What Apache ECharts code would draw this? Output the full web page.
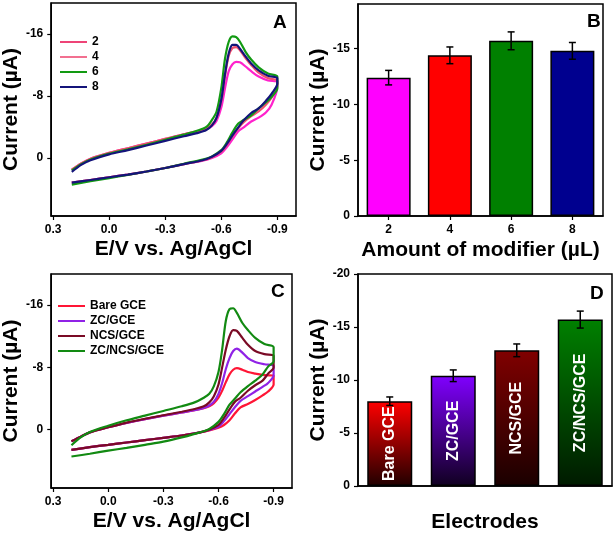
<!DOCTYPE html>
<html><head><meta charset="utf-8">
<script src="https://cdn.jsdelivr.net/npm/echarts@6/dist/echarts.min.js"></script>
<style>html,body{margin:0;padding:0;background:#fff}#c{width:614px;height:534px}</style>
</head><body><div id="c"></div>
<script>
// ---------- shared potential grids (V vs Ag/AgCl) ----------
const E_FWD = [0.2, 0.15, 0.1, 0.0, -0.1, -0.2, -0.3, -0.4, -0.47, -0.52, -0.55, -0.575, -0.6, -0.62, -0.64, -0.66, -0.68, -0.70, -0.73, -0.76, -0.80, -0.85, -0.9];
const E_REV = [-0.9, -0.87, -0.84, -0.80, -0.76, -0.72, -0.69, -0.66, -0.63, -0.60, -0.55, -0.5, -0.4, -0.3, -0.2, -0.1, 0.0, 0.1, 0.2];

// ---------- Panel A: amount of modifier (µA) ----------
const A_NAMES = ['2', '4', '6', '8'];
const A_FWD_2 = [1.5, 0.7, 0.1, -0.65, -1.25, -1.85, -2.45, -3.05, -3.4, -3.7, -4.1, -4.8, -6.5, -9.0, -11.2, -12.1, -12.4, -12.35, -11.8, -11.2, -10.5, -10.0, -9.8];
const A_REV_2 = [-9.2, -6.9, -5.9, -5.2, -4.7, -3.95, -3.4, -2.4, -1.4, -0.6, 0.0, 0.35, 0.8, 1.3, 1.75, 2.15, 2.5, 2.85, 3.2];
const A_FWD_4 = [1.5, 0.7, 0.1, -0.65, -1.25, -1.85, -2.45, -3.05, -3.45, -3.8, -4.3, -5.2, -7.4, -10.6, -13.2, -14.2, -14.3, -13.9, -12.9, -12.0, -11.0, -10.3, -10.0];
const A_REV_4 = [-9.4, -7.8, -6.9, -6.0, -5.4, -4.6, -3.8, -2.8, -1.7, -0.8, -0.1, 0.3, 0.8, 1.3, 1.75, 2.15, 2.5, 2.85, 3.2];
const A_FWD_6 = [1.6, 0.8, 0.2, -0.55, -1.1, -1.7, -2.35, -3.0, -3.5, -4.0, -4.9, -6.0, -9.0, -12.8, -15.0, -15.7, -15.6, -15.0, -13.7, -12.7, -11.7, -10.9, -10.5];
const A_REV_6 = [-9.0, -7.9, -7.2, -6.4, -5.5, -4.9, -4.4, -3.3, -2.0, -1.0, -0.2, 0.2, 0.75, 1.3, 1.75, 2.2, 2.6, 3.0, 3.45];
const A_FWD_8 = [1.8, 0.9, 0.3, -0.45, -1.0, -1.6, -2.2, -2.8, -3.2, -3.6, -4.2, -5.2, -7.5, -10.8, -13.5, -14.6, -14.6, -14.1, -13.1, -12.2, -11.3, -10.6, -10.3];
const A_REV_8 = [-9.6, -8.3, -7.4, -6.4, -5.8, -4.85, -3.9, -2.9, -1.8, -0.9, -0.15, 0.3, 0.8, 1.3, 1.75, 2.15, 2.5, 2.85, 3.2];
const A_X_TICKS = [0.3, 0.0, -0.3, -0.6, -0.9];
const A_Y_TICKS = [-16, -8, 0];

// ---------- Panel B: peak current vs amount ----------
const B_CATS = ['2', '4', '6', '8'];
const B_VALUES = [-12.4, -14.4, -15.7, -14.8];
const B_ERRORS = [0.65, 0.75, 0.8, 0.75];
const B_Y_TICKS = [0, -5, -10, -15];

// ---------- Panel C: electrodes CV ----------
const C_NAMES = ['Bare GCE', 'ZC/GCE', 'NCS/GCE', 'ZC/NCS/GCE'];
const C_FWD_BARE = [1.5, 0.9, 0.35, -0.3, -0.85, -1.35, -1.8, -2.2, -2.5, -2.75, -3.0, -3.4, -4.1, -5.0, -6.1, -7.1, -7.7, -7.9, -7.7, -7.4, -7.2, -7.0, -6.95];
const C_REV_BARE = [-5.8, -4.9, -4.4, -3.8, -3.3, -2.85, -2.1, -1.2, -0.6, -0.25, 0.1, 0.35, 0.75, 1.05, 1.35, 1.65, 1.95, 2.25, 2.6];
const C_FWD_ZC = [1.5, 0.9, 0.35, -0.3, -0.85, -1.35, -1.8, -2.2, -2.5, -2.8, -3.1, -3.6, -4.6, -6.0, -7.8, -9.2, -10.1, -10.4, -9.9, -9.2, -8.7, -8.4, -8.2];
const C_REV_ZC = [-7.0, -6.0, -5.5, -4.9, -4.3, -3.7, -2.9, -2.0, -1.1, -0.4, 0.05, 0.35, 0.75, 1.05, 1.35, 1.65, 1.95, 2.25, 2.6];
const C_FWD_NCS = [1.5, 0.9, 0.35, -0.3, -0.9, -1.4, -1.85, -2.3, -2.65, -3.0, -3.5, -4.3, -5.8, -8.0, -10.3, -12.0, -12.8, -12.7, -11.8, -10.9, -10.1, -9.7, -9.5];
const C_REV_NCS = [-8.0, -7.2, -6.3, -5.7, -5.0, -4.1, -3.6, -2.6, -1.5, -0.6, 0.0, 0.35, 0.75, 1.05, 1.35, 1.65, 1.95, 2.25, 2.6];
const C_FWD_ZCNCS = [2.0, 1.0, 0.3, -0.5, -1.2, -1.8, -2.4, -3.0, -3.5, -4.1, -4.6, -5.6, -7.4, -10.3, -14.0, -15.5, -15.6, -15.0, -13.7, -12.8, -11.8, -11.0, -10.6];
const C_REV_ZCNCS = [-8.8, -8.1, -7.1, -6.3, -5.6, -4.8, -4.0, -3.2, -2.0, -1.0, -0.1, 0.35, 1.0, 1.55, 1.95, 2.35, 2.7, 3.1, 3.45];

// ---------- Panel D: peak current vs electrode ----------
const D_CATS = ['Bare GCE', 'ZC/GCE', 'NCS/GCE', 'ZC/NCS/GCE'];
const D_VALUES = [-8.0, -10.4, -12.8, -15.7];
const D_ERRORS = [0.4, 0.55, 0.6, 0.8];

// ---------- styles ----------
const A_COLORS = ['#ff22cc', '#f2506e', '#129a12', '#14147a'];
const A_LEGEND_COLORS = ['#ee4477', '#f27090', '#129a12', '#14147a'];
const B_COLORS = ['#ff00ff', '#ff0000', '#008000', '#00008f'];
const C_COLORS = ['#ff1535', '#9022e6', '#7a0a25', '#128a12'];
const D_TOP = ['#ff0000', '#8000ff', '#800000', '#008000'];
const D_BOT = ['#200000', '#100020', '#1a0000', '#001a00'];

const FONT = 'Liberation Sans, Arial, Helvetica, sans-serif';
const chart = echarts.init(document.getElementById('c'), null, {renderer: 'canvas'});

function loop(f, r) {
  const out = [];
  E_FWD.forEach((e, i) => out.push([e, f[i]]));
  E_REV.forEach((e, i) => out.push([e, r[i]]));
  return out;
}
const A_DATA = [loop(A_FWD_2, A_REV_2), loop(A_FWD_4, A_REV_4), loop(A_FWD_6, A_REV_6), loop(A_FWD_8, A_REV_8)];
const C_DATA = [loop(C_FWD_BARE, C_REV_BARE), loop(C_FWD_ZC, C_REV_ZC), loop(C_FWD_NCS, C_REV_NCS), loop(C_FWD_ZCNCS, C_REV_ZCNCS)];

const lbl = {color: '#000', fontWeight: 'bold', fontSize: 12, fontFamily: FONT};
const axLine = {show: true, onZero: false, lineStyle: {color: '#000', width: 1.5}};
const nameStyle = {color: '#000', fontWeight: 'bold', fontSize: 21, fontFamily: FONT};

function cvX(idx) {
  return {gridIndex: idx, type: 'value', min: -1.0, max: 0.31, inverse: true,
    axisLine: axLine, splitLine: {show: false},
    axisTick: {show: true, length: 4, lineStyle: {color: '#000', width: 1.2}, customValues: A_X_TICKS},
    axisLabel: Object.assign({margin: 8, customValues: A_X_TICKS, formatter: v => Number(v).toFixed(1)}, lbl),
    name: 'E/V vs. Ag/AgCl', nameLocation: 'middle', nameGap: 23, nameTextStyle: nameStyle};
}
function cvY(idx, gap) {
  return {gridIndex: idx, type: 'value', min: -20, max: 7.5, inverse: true,
    axisLine: axLine, splitLine: {show: false},
    axisTick: {show: true, length: 4, lineStyle: {color: '#000', width: 1.2}, customValues: A_Y_TICKS},
    axisLabel: Object.assign({margin: 8, customValues: A_Y_TICKS, formatter: v => String(v)}, lbl),
    name: 'Current (µA)', nameLocation: 'middle', nameRotate: 90, nameGap: gap, nameTextStyle: nameStyle};
}

function errSeries(name, xi, yi, vals, errs) {
  return {name: name, type: 'custom', xAxisIndex: xi, yAxisIndex: yi, z: 5,
    data: vals.map((v, i) => [i, v, errs[i]]),
    renderItem: function (params, api) {
      const x = api.value(0), y = api.value(1), e = api.value(2);
      const hi = api.coord([x, y - e]), lo = api.coord([x, y + e]);
      const w = 3.5, st = {stroke: '#000', lineWidth: 1.5};
      return {type: 'group', children: [
        {type: 'line', shape: {x1: hi[0], y1: hi[1], x2: lo[0], y2: lo[1]}, style: st},
        {type: 'line', shape: {x1: hi[0] - w, y1: hi[1], x2: hi[0] + w, y2: hi[1]}, style: st},
        {type: 'line', shape: {x1: lo[0] - w, y1: lo[1], x2: lo[0] + w, y2: lo[1]}, style: st}
      ]};
    }};
}

const gridBase = {show: true, borderColor: '#000', borderWidth: 1.5, backgroundColor: 'transparent', containLabel: false};

const series = [];
A_NAMES.forEach((n, i) => series.push({name: n, type: 'line', xAxisIndex: 0, yAxisIndex: 0,
  data: A_DATA[i], showSymbol: false, symbol: 'none', smooth: 0.3,
  lineStyle: {color: A_COLORS[i], width: 2.2}, itemStyle: {color: A_COLORS[i]}}));
C_NAMES.forEach((n, i) => series.push({name: n, type: 'line', xAxisIndex: 2, yAxisIndex: 2,
  data: C_DATA[i], showSymbol: false, symbol: 'none', smooth: 0.3,
  lineStyle: {color: C_COLORS[i], width: 2.2}, itemStyle: {color: C_COLORS[i]}}));
series.push({name: 'B bars', type: 'bar', xAxisIndex: 1, yAxisIndex: 1, barWidth: 44,
  data: B_VALUES.map((v, i) => ({value: v, itemStyle: {color: B_COLORS[i], borderColor: '#000', borderWidth: 1.5}}))});
series.push(errSeries('B err', 1, 1, B_VALUES, B_ERRORS));
series.push({name: 'D bars', type: 'bar', xAxisIndex: 3, yAxisIndex: 3, barWidth: 45,
  data: D_VALUES.map((v, i) => ({value: v, itemStyle: {
    color: new echarts.graphic.LinearGradient(0, 0, 0, 1, [{offset: 0, color: D_TOP[i]}, {offset: 1, color: D_BOT[i]}]),
    borderColor: '#000', borderWidth: 1.5}})),
  label: {show: true, position: 'inside', rotate: 90, color: '#fff', fontWeight: 'bold', fontSize: 16, fontFamily: FONT,
    formatter: p => D_CATS[p.dataIndex]}});
series.push(errSeries('D err', 3, 3, D_VALUES, D_ERRORS));

const option = {
  animation: false,
  backgroundColor: '#fff',
  textStyle: {fontFamily: FONT},
  grid: [
    Object.assign({left: 43, top: 3, width: 253, height: 213}, gridBase),
    Object.assign({left: 358, top: 4, width: 245, height: 212}, gridBase),
    Object.assign({left: 42, top: 274, width: 250, height: 214}, gridBase),
    Object.assign({left: 358, top: 274, width: 254, height: 212}, gridBase)
  ],
  xAxis: [
    cvX(0),
    {gridIndex: 1, type: 'category', data: B_CATS, axisLine: axLine,
      axisTick: {show: true, alignWithLabel: true, length: 4, lineStyle: {color: '#000', width: 1.2}},
      axisLabel: Object.assign({margin: 8}, lbl),
      name: 'Amount of modifier (µL)', nameLocation: 'middle', nameGap: 24, nameTextStyle: nameStyle},
    cvX(2),
    {gridIndex: 3, type: 'category', data: D_CATS, axisLine: axLine,
      axisTick: {show: false}, axisLabel: {show: false},
      name: 'Electrodes', nameLocation: 'middle', nameGap: 26, nameTextStyle: nameStyle}
  ],
  yAxis: [
    cvY(0, 26),
    {gridIndex: 1, type: 'value', min: -19, max: 0, inverse: true, axisLine: axLine, splitLine: {show: false},
      axisTick: {show: true, length: 4, lineStyle: {color: '#000', width: 1.2}, customValues: B_Y_TICKS},
      axisLabel: Object.assign({margin: 8, customValues: B_Y_TICKS, formatter: v => String(v)}, lbl),
      name: 'Current (µA)', nameLocation: 'middle', nameRotate: 90, nameGap: 26, nameTextStyle: nameStyle},
    cvY(2, 22),
    {gridIndex: 3, type: 'value', min: -20, max: 0, interval: 5, inverse: true, axisLine: axLine, splitLine: {show: false},
      axisTick: {show: true, length: 4, lineStyle: {color: '#000', width: 1.2}},
      axisLabel: Object.assign({margin: 8}, lbl),
      name: 'Current (µA)', nameLocation: 'middle', nameRotate: 90, nameGap: 26, nameTextStyle: nameStyle}
  ],
  legend: [
    {orient: 'vertical', left: 60, top: 36, icon: 'rect', itemWidth: 27, itemHeight: 2, itemGap: 3, padding: 0,
      textStyle: Object.assign({lineHeight: 12}, lbl),
      data: A_NAMES.map((n, i) => ({name: n, itemStyle: {color: A_LEGEND_COLORS[i]}}))},
    {orient: 'vertical', left: 58, top: 300, icon: 'rect', itemWidth: 27, itemHeight: 2, itemGap: 3, padding: 0,
      textStyle: Object.assign({lineHeight: 12}, lbl),
      data: C_NAMES.map((n, i) => ({name: n}))}
  ],
  graphic: [
    {type: 'text', left: 273, top: 13, style: {text: 'A', font: 'bold 19px ' + FONT, fill: '#000'}},
    {type: 'text', left: 587, top: 12, style: {text: 'B', font: 'bold 19px ' + FONT, fill: '#000'}},
    {type: 'text', left: 271, top: 282, style: {text: 'C', font: 'bold 19px ' + FONT, fill: '#000'}},
    {type: 'text', left: 590, top: 284, style: {text: 'D', font: 'bold 19px ' + FONT, fill: '#000'}}
  ],
  series: series
};
chart.setOption(option);
</script></body></html>
